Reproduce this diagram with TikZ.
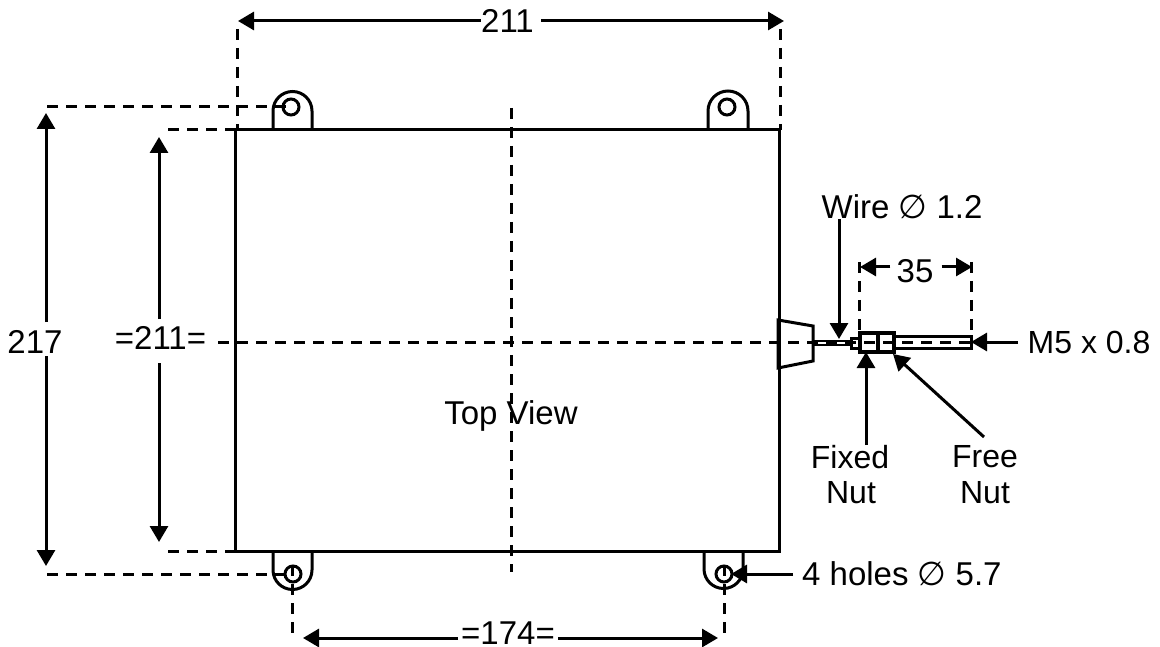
\documentclass[tikz,border=0pt]{standalone}
\usepackage{fontspec}
\setmainfont{Liberation Sans}
\newfontfamily\symfont{DejaVu Sans}
\usetikzlibrary{arrows.meta}
\newcommand{\dia}{{\symfont\fontsize{33}{33}\selectfont ∅}}
\tikzset{
  outline/.style={draw=black,line width=3pt,line join=miter},
  thin outline/.style={draw=black,line width=3pt},
  dashline/.style={draw=black,line width=3pt,dash pattern=on 11pt off 8pt},
  dim/.style={draw=black,line width=3pt,-{Triangle[length=16pt,width=18pt]}},
  lbl/.style={font=\fontsize{33}{38}\selectfont,inner sep=0pt,text=black},
  lbls/.style={font=\fontsize{32}{36}\selectfont,inner sep=0pt,text=black},
}
\begin{document}
\begin{tikzpicture}[x=1pt,y=-1pt]
\useasboundingbox (0,0) rectangle (1160,647);
% anchor points
\coordinate (tl) at (235,130); \coordinate (tr) at (779,130);
\coordinate (bl) at (235,551); \coordinate (br) at (779,551);
\coordinate (h1) at (291,107); \coordinate (h2) at (727,107);
\coordinate (h3) at (293,574); \coordinate (h4) at (724,574);
% centre lines and extension lines
\coordinate (cT) at (511,108); \coordinate (cB) at (511,572);
\coordinate (cL) at (218,342); \coordinate (cR) at (970,342);
\draw[dashline] (cT) -- (cB);
\draw[dashline] (cL) -- (cR);
\coordinate (e1a) at (237,130); \coordinate (e1b) at (237,29);
\coordinate (e2a) at (780,130); \coordinate (e2b) at (780,29);
\draw[dashline] (e1b) -- (e1a);
\draw[dashline] (e2b) -- (e2a);
\coordinate (e3) at (47,107); \coordinate (e4) at (47,574);
\draw[dashline] (e3) -- (h1);
\draw[dashline] (e4) -- (h3);
\coordinate (e5) at (168,130); \coordinate (e6) at (168,551);
\draw[dashline] (e5) -- (tl);
\draw[dashline] (e6) -- (bl);
\coordinate (e7) at (292,640); \coordinate (e8) at (724,640);
\coordinate (h3v) at (292,565); \coordinate (h4v) at (724,565);
\draw[dashline] (h3v) -- (e7);
\draw[dashline] (h4v) -- (e8);
\coordinate (e9a) at (859,333); \coordinate (e9b) at (859,262);
\coordinate (e10a) at (971,336); \coordinate (e10b) at (971,262);
\draw[dashline] (e9b) -- (e9a);
\draw[dashline] (e10b) -- (e10a);
% body
\draw[outline] (tl) rectangle (br);
% lugs
\draw[outline] (273,130) -- (273,111) arc[start angle=180,end angle=360,radius=19.5] -- (312,130);
\draw[outline] (708,130) -- (708,111) arc[start angle=180,end angle=360,radius=20] -- (748,130);
\draw[outline] (273,551) -- (273,570) arc[start angle=180,end angle=0,radius=19.5] -- (312,551);
\draw[outline] (704,551) -- (704,569) arc[start angle=180,end angle=0,radius=19.5] -- (743,551);
\draw[thin outline] (h1) circle[radius=8];
\draw[thin outline] (h2) circle[radius=8];
\draw[thin outline] (h3) circle[radius=8];
\draw[thin outline] (h4) circle[radius=8];
% gland, wire, nuts, thread
\draw[outline] (778,320) -- (813,326) -- (813,361) -- (778,368) -- cycle;
\draw[thin outline,line width=2pt] (813,340.5) -- (851,340.5);
\draw[thin outline,line width=2pt] (813,345) -- (851,345);
\draw[thin outline] (851,338) rectangle (860,348);
\draw[thin outline] (894,336) rectangle (971,348);
\draw[outline,line width=4pt] (860,333) rectangle (878,351.5);
\draw[outline,line width=4pt] (878,333) rectangle (894,351.5);
% labels
\node[lbl] (d211top) at (507.5,20.5) {211};
\node[lbl] (d217) at (35,342) {217};
\node[lbl] (d211l) at (160.5,338) {=211=};
\node[lbl] (d174) at (508,633) {=174=};
\node[lbl] (top) at (511,416) {Top View};
\node[lbl] (wire) at (902,207) {Wire \dia{} 1.2};
\node[lbl] (d35) at (915,271) {35};
\node[lbls,anchor=west] (m5) at (1027.5,342) {M5 x 0.8};
\node[lbls] (fixed1) at (850,457) {Fixed};
\node[lbls] (fixed2) at (851,493) {Nut};
\node[lbls] (free1) at (985,457) {Free};
\node[lbls] (free2) at (985,493) {Nut};
\node[lbl,anchor=west] (holes) at (802,574) {4 holes \dia{} 5.7};
% dimension arrows
\coordinate (a1) at (238,21); \coordinate (a2) at (784,21);
\draw[dim] (d211top.west |- a1) -- (a1);
\draw[dim] ([xshift=7pt]d211top.east |- a2) -- (a2);
\coordinate (a3) at (46,113); \coordinate (a4) at (46,566);
\coordinate (a3s) at (46,322); \coordinate (a4s) at (46,356);
\draw[dim] (a3s) -- (a3);
\draw[dim] (a4s) -- (a4);
\coordinate (a5) at (159,137); \coordinate (a6) at (159,542);
\coordinate (a5s) at (159,319); \coordinate (a6s) at (159,363);
\draw[dim] (a5s) -- (a5);
\draw[dim] (a6s) -- (a6);
\coordinate (a7) at (303,638); \coordinate (a8) at (718,638);
\draw[dim] ([xshift=-3pt]d174.west |- a7) -- (a7);
\draw[dim] ([xshift=3pt]d174.east |- a8) -- (a8);
\coordinate (a9) at (860,267); \coordinate (a10) at (972,267);
\draw[dim] ([xshift=-6pt]d35.west |- a9) -- (a9);
\draw[dim] ([xshift=8pt]d35.east |- a10) -- (a10);
% pointer arrows
\coordinate (p1s) at (839,219); \coordinate (p1e) at (839,339);
\draw[dim] (p1s) -- (p1e);
\coordinate (p2s) at (1018,342); \coordinate (p2e) at (971,342);
\draw[dim] (p2s) -- (p2e);
\coordinate (p3s) at (866,445); \coordinate (p3e) at (866,352);
\draw[dim] (p3s) -- (p3e);
\coordinate (p4s) at (984,437); \coordinate (p4e) at (893,354);
\draw[dim] (p4s) -- (p4e);
\coordinate (p5s) at (793,574); \coordinate (p5e) at (731,574);
\draw[dim] (p5s) -- (p5e);
\end{tikzpicture}
\end{document}
